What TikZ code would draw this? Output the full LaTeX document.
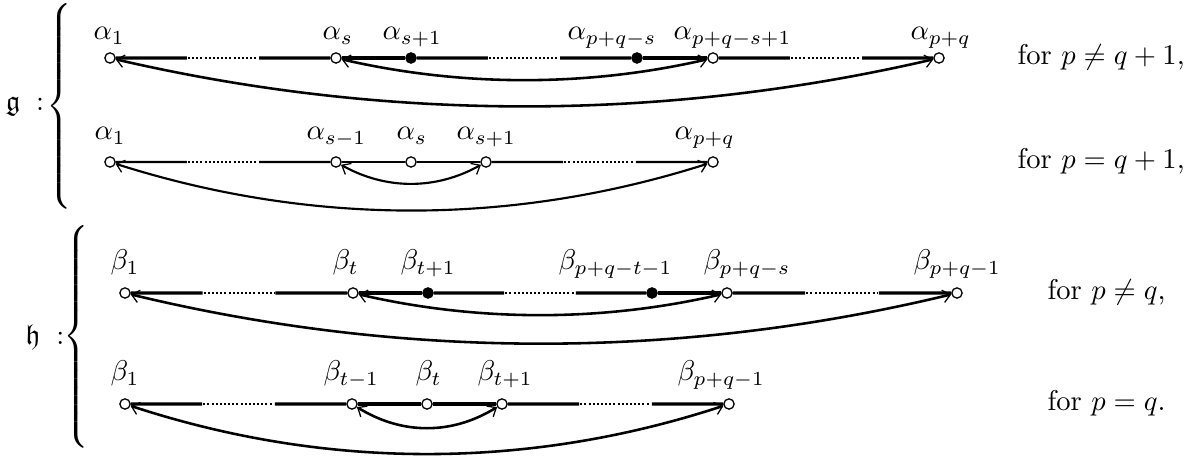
\documentclass[tikz,border=0pt]{standalone}
\usepackage{amssymb}
\usetikzlibrary{calc,arrows.meta}
\newcommand\dotcon[3][edge]{%
  \draw[#1] (#2) -- ($(#2)!0.34!(#3)$);
  \draw[dots] ($(#2)!0.345!(#3)$) -- ($(#2)!0.655!(#3)$);
  \draw[#1] ($(#2)!0.66!(#3)$) -- (#3);}
\newcommand\bigbrace[1]{$\delimitershortfall=0pt\delimiterfactor=1000\left\{\vcenter{\hbox{\rule{0pt}{#1}}}\right.$}
\begin{document}
\begin{tikzpicture}[x=0.35pt,y=-0.35pt,
  wn/.style={circle,draw,fill=white,line width=0.45pt,inner sep=0pt,minimum size=3.6pt},
  bn/.style={circle,draw,fill=black,line width=0.45pt,inner sep=0pt,minimum size=3.6pt},
  lab/.style={anchor=base west,inner sep=0pt},
  txt/.style={anchor=base west,inner sep=0pt},
  edge/.style={line width=1.2pt},
  thinedge/.style={line width=0.8pt},
  dots/.style={line width=0.85pt,dash pattern=on 0.7pt off 0.75pt},
  tip/.tip={Straight Barb[length=2.6pt,width=4.4pt,line width=0.45pt]},
  arc/.style={line width=0.9pt,tip-tip},
  thinarc/.style={line width=0.75pt,tip-tip}]
\useasboundingbox (0,0) rectangle (1202,458);

% left labels and braces
\node (gname) at (25,106) {$\mathfrak{g}\;:$};
\node[inner sep=0pt] (gbrace) at (61,106) {\bigbrace{71pt}};
\node (hname) at (45,337) {$\mathfrak{h}\;:$};
\node[inner sep=0pt] (hbrace) at (78,336.5) {\bigbrace{75pt}};

% ---------- row 1 ----------
\node[wn] (a1) at (110,58) {};
\node[wn] (a2) at (336,58) {};
\node[bn] (a3) at (411,58) {};
\node[bn] (a4) at (637,58) {};
\node[wn] (a5) at (713,58) {};
\node[wn] (a6) at (939,58) {};
\node[lab] (la1) at (93,40) {$\alpha_1$};
\node[lab] (la2) at (322,40) {$\alpha_s$};
\node[lab] (la3) at (382,40) {$\alpha_{s+1}$};
\node[lab] (la4) at (567,40) {$\alpha_{p+q-s}$};
\node[lab] (la5) at (673,40) {$\alpha_{p+q-s+1}$};
\node[lab] (la6) at (910,40) {$\alpha_{p+q}$};
\dotcon{a1}{a2}
\draw[edge] (a2) -- (a3);
\dotcon{a3}{a4}
\draw[edge] (a4) -- (a5);
\dotcon{a5}{a6}
\draw[arc] (a1) .. controls +(276,64) and +(-276,64) .. (a6);
\draw[arc] (a2) .. controls +(126,29) and +(-126,29) .. (a5);
\node[txt] (ta) at (1017,65) {for $p\neq q+1$,};

% ---------- row 2 ----------
\node[wn] (b1) at (110,162) {};
\node[wn] (b2) at (336,162) {};
\node[wn] (b3) at (411,162) {};
\node[wn] (b4) at (486,162) {};
\node[wn] (b5) at (713,162) {};
\node[lab] (lb1) at (94,140) {$\alpha_1$};
\node[lab] (lb2) at (306,140) {$\alpha_{s-1}$};
\node[lab] (lb3) at (396,140) {$\alpha_s$};
\node[lab] (lb4) at (456,140) {$\alpha_{s+1}$};
\node[lab] (lb5) at (674,140) {$\alpha_{p+q}$};
\dotcon[thinedge]{b1}{b2}
\draw[thinedge] (b2) -- (b3);
\draw[thinedge] (b3) -- (b4);
\dotcon[thinedge]{b4}{b5}
\draw[thinarc] (b1) .. controls +(201,64) and +(-201,64) .. (b5);
\draw[thinarc] (b2) .. controls +(50,28) and +(-50,28) .. (b4);
\node[txt] (tb) at (1017,169) {for $p=q+1$,};

% ---------- row 3 ----------
\node[wn] (c1) at (125,293) {};
\node[wn] (c2) at (353,293) {};
\node[bn] (c3) at (428,293) {};
\node[bn] (c4) at (652,293) {};
\node[wn] (c5) at (727,293) {};
\node[wn] (c6) at (957,293) {};
\node[lab] (lc1) at (110,270) {$\beta_1$};
\node[lab] (lc2) at (332,270) {$\beta_t$};
\node[lab] (lc3) at (400,270) {$\beta_{t+1}$};
\node[lab] (lc4) at (558,270) {$\beta_{p+q-t-1}$};
\node[lab] (lc5) at (703,270) {$\beta_{p+q-s}$};
\node[lab] (lc6) at (913,270) {$\beta_{p+q-1}$};
\dotcon{c1}{c2}
\draw[edge] (c2) -- (c3);
\dotcon{c3}{c4}
\draw[edge] (c4) -- (c5);
\dotcon{c5}{c6}
\draw[arc] (c1) .. controls +(277,67) and +(-277,67) .. (c6);
\draw[arc] (c2) .. controls +(125,29) and +(-125,29) .. (c5);
\node[txt] (tc) at (1047,300) {for $p\neq q$,};

% ---------- row 4 ----------
\node[wn] (d1) at (125,404) {};
\node[wn] (d2) at (352,404) {};
\node[wn] (d3) at (427,404) {};
\node[wn] (d4) at (502,404) {};
\node[wn] (d5) at (729,404) {};
\node[lab] (ld1) at (110,381) {$\beta_1$};
\node[lab] (ld2) at (323,381) {$\beta_{t-1}$};
\node[lab] (ld3) at (415,381) {$\beta_t$};
\node[lab] (ld4) at (477,381) {$\beta_{t+1}$};
\node[lab] (ld5) at (677,381) {$\beta_{p+q-1}$};
\dotcon{d1}{d2}
\draw[edge] (d2) -- (d3);
\draw[edge] (d3) -- (d4);
\dotcon{d4}{d5}
\draw[arc] (d1) .. controls +(201,66) and +(-201,66) .. (d5);
\draw[arc] (d2) .. controls +(50,31) and +(-50,31) .. (d4);
\node[txt] (td) at (1047,411) {for $p=q$.};
\end{tikzpicture}
\end{document}
